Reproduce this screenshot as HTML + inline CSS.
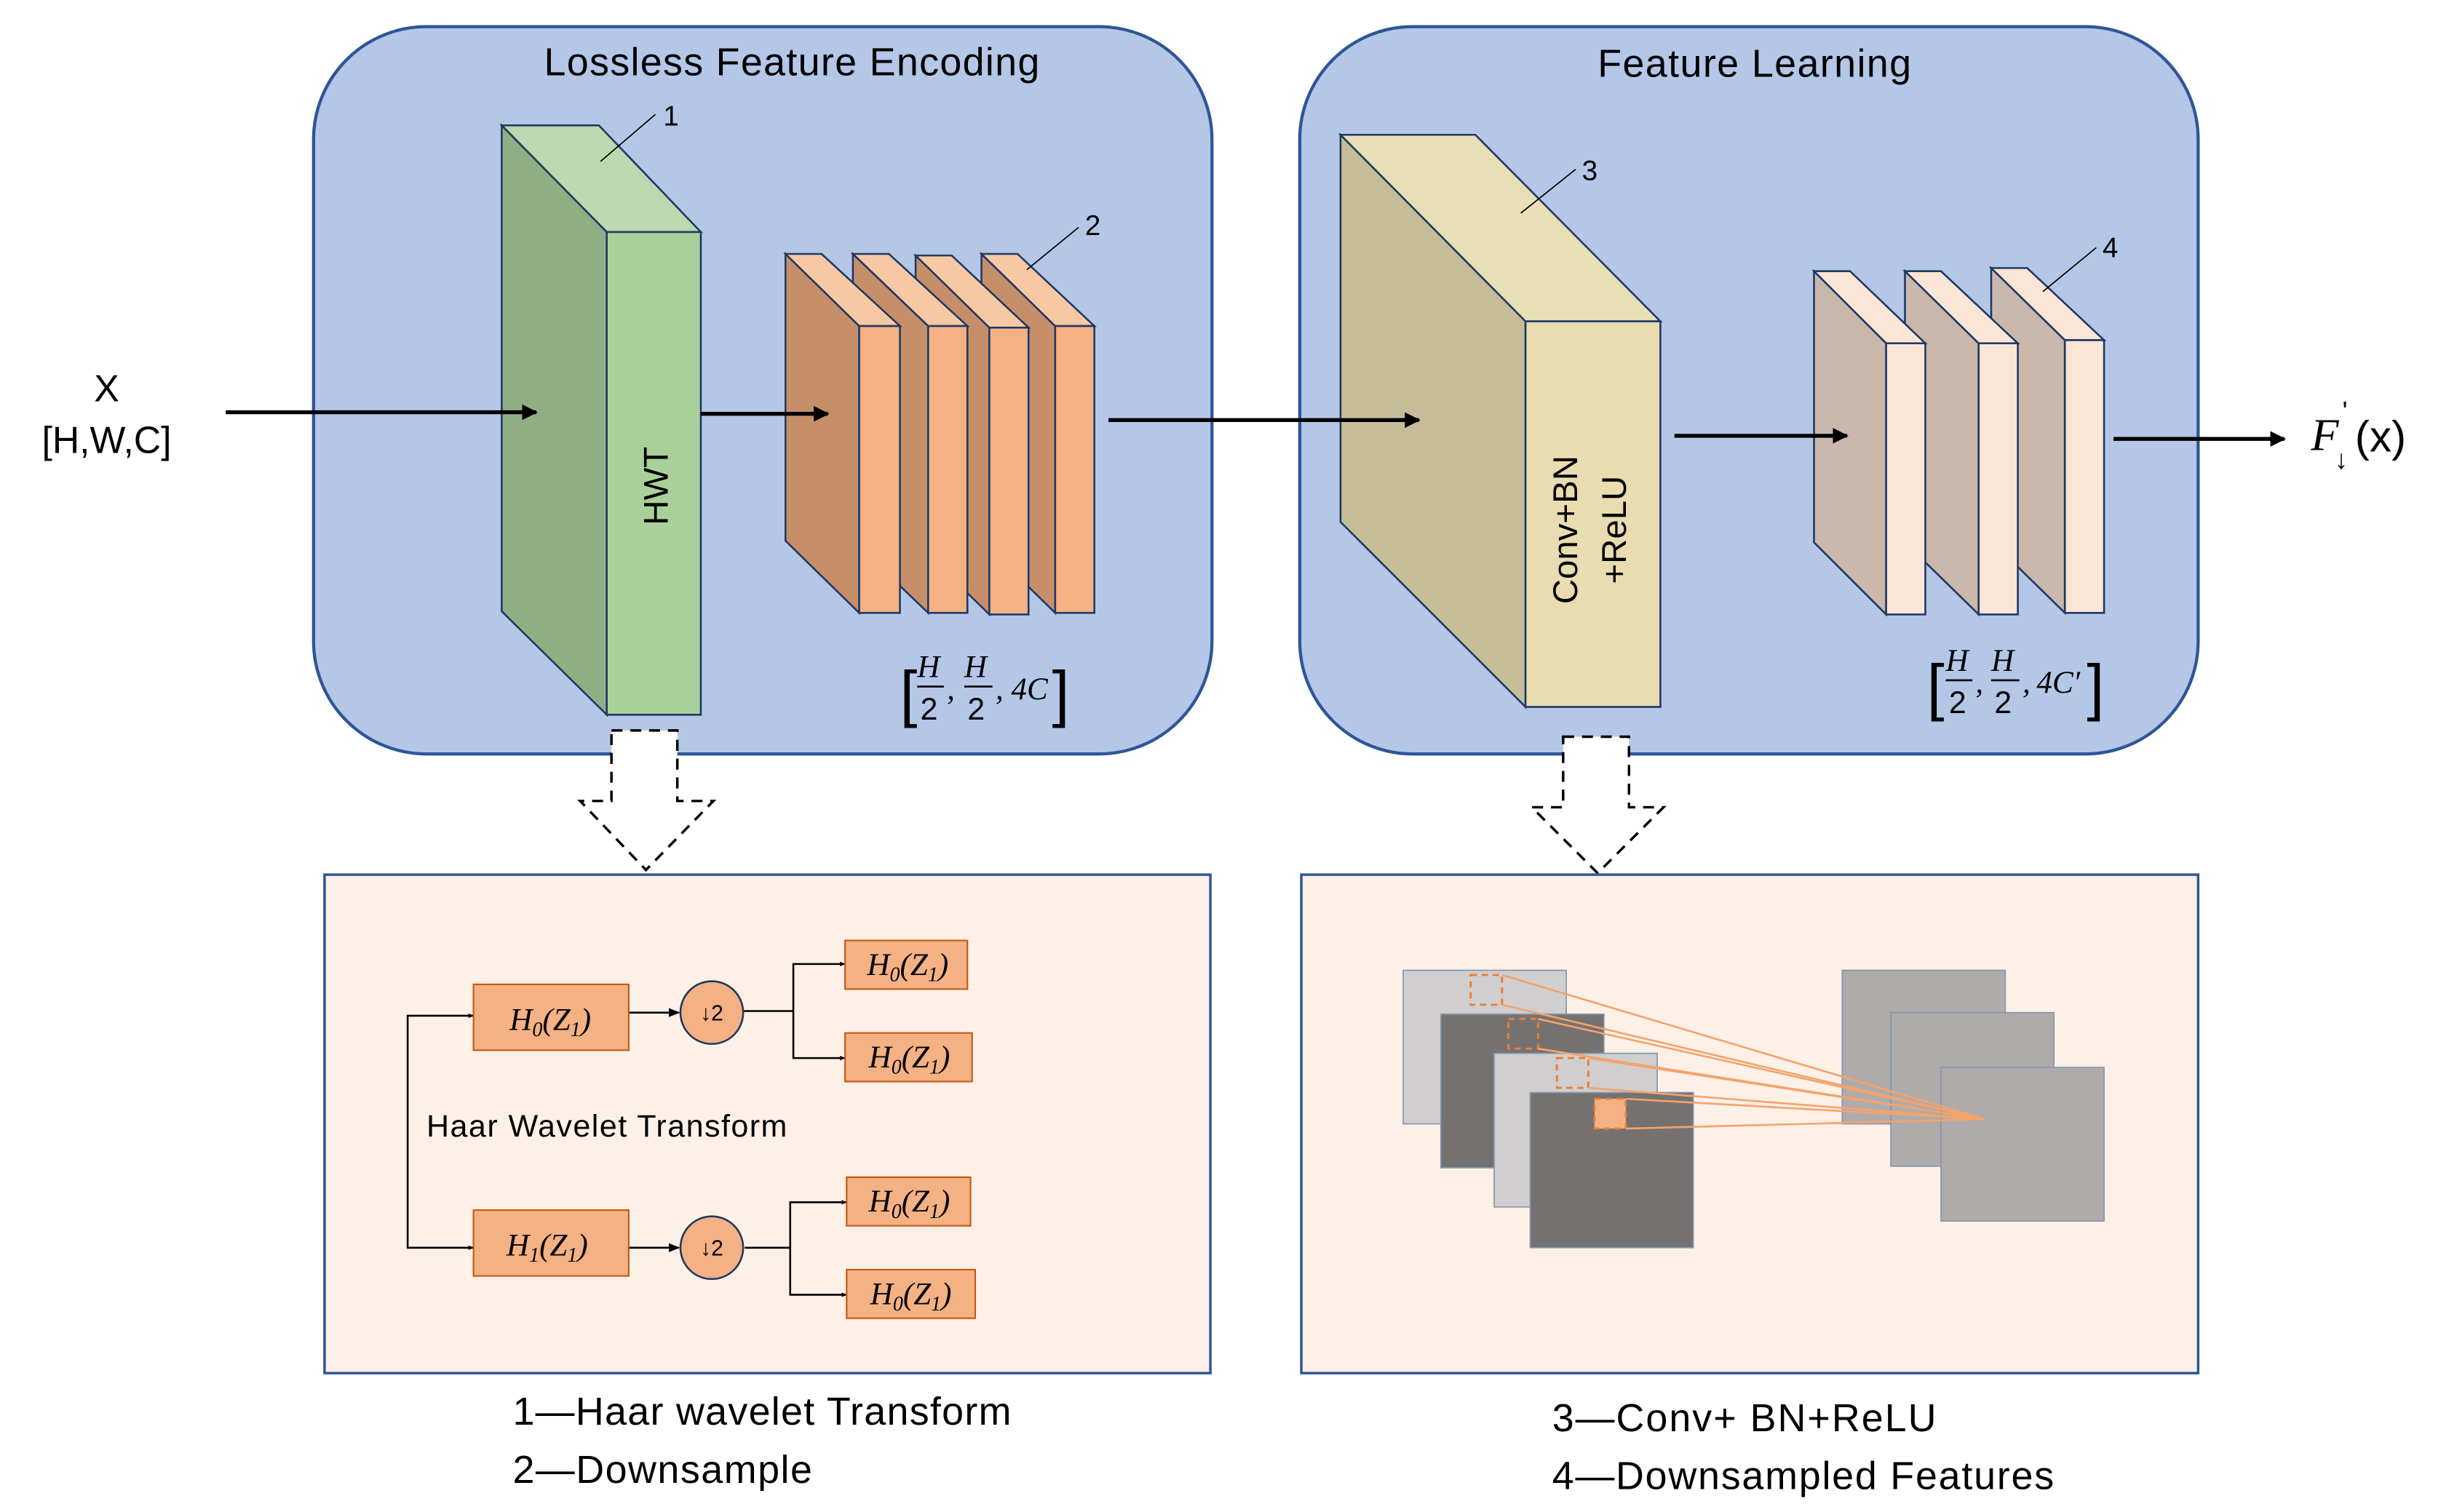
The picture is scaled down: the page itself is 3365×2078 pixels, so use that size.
<!DOCTYPE html>
<html><head><meta charset="utf-8"><style>
html,body{margin:0;padding:0;background:#fff;}
svg{display:block;}
text{font-family:"Liberation Sans",sans-serif;fill:#000;}
.m{font-family:"Liberation Serif",serif;font-style:italic;}
</style></head><body>
<svg width="3365" height="2078" viewBox="0 0 1562 964.6" preserveAspectRatio="none" xmlns="http://www.w3.org/2000/svg">
<defs>
<marker id="ah" viewBox="0 0 10 10" refX="9" refY="5" markerWidth="4" markerHeight="4" orient="auto"><path d="M0,0 L10,5 L0,10 z" fill="#000"/></marker>
<marker id="as" viewBox="0 0 10 10" refX="9" refY="5" markerWidth="6" markerHeight="6" orient="auto"><path d="M0,1 L10,5 L0,9 z" fill="#000"/></marker>
</defs>
<rect x="200" y="17" width="573" height="464" rx="72" fill="#b4c7e7" stroke="#2f5597" stroke-width="2"/>
<rect x="829" y="17" width="573" height="464" rx="72" fill="#b4c7e7" stroke="#2f5597" stroke-width="2"/>
<text x="505" y="48" font-size="25" text-anchor="middle" textLength="316">Lossless Feature Encoding</text>
<text x="1119" y="49" font-size="25" text-anchor="middle" textLength="200">Feature Learning</text>
<text x="68" y="256" font-size="24" text-anchor="middle">X</text>
<text x="68" y="289" font-size="24" text-anchor="middle">[H,W,C]</text>
<!-- green block -->
<g stroke="#203864" stroke-width="1.2">
<polygon points="320,80 387,148 387,456 320,390" fill="#8fae84"/>
<polygon points="320,80 382,80 447,148 387,148" fill="#bcd8b0"/>
<rect x="387" y="148" width="60" height="308" fill="#aad09a"/>
</g>
<text x="0" y="0" font-size="22" text-anchor="middle" transform="translate(426,310) rotate(-90)">HWT</text>
<line x1="383" y1="103" x2="418" y2="73" stroke="#000" stroke-width="0.8"/>
<text x="423" y="80" font-size="18">1</text>
<!-- orange slabs (back to front) -->
<g stroke="#203864" stroke-width="1.2">
<polygon points="626,162 673,208 673,391 626,345" fill="#c78f69"/>
<polygon points="626,162 649,162 698,208 673,208" fill="#f8c8a4"/>
<rect x="673" y="208" width="25" height="183" fill="#f4b183"/>
<polygon points="584,163 631,209 631,392 584,346" fill="#c78f69"/>
<polygon points="584,163 607,163 656,209 631,209" fill="#f8c8a4"/>
<rect x="631" y="209" width="25" height="183" fill="#f4b183"/>
<polygon points="544,162 592,208 592,391 544,345" fill="#c78f69"/>
<polygon points="544,162 567,162 617,208 592,208" fill="#f8c8a4"/>
<rect x="592" y="208" width="25" height="183" fill="#f4b183"/>
<polygon points="501,162 548,208 548,391 501,345" fill="#c78f69"/>
<polygon points="501,162 524,162 574,208 548,208" fill="#f8c8a4"/>
<rect x="548" y="208" width="26" height="183" fill="#f4b183"/>
</g>
<line x1="655" y1="172" x2="688" y2="145" stroke="#000" stroke-width="0.8"/>
<text x="692" y="150" font-size="18">2</text>
<!-- dims left -->
<text x="574" y="456" font-size="40" font-family="Liberation Serif">[</text>
<text x="585" y="432" font-size="20" class="m">H</text><line x1="585" y1="438" x2="602" y2="438" stroke="#000" stroke-width="1.2"/><text x="587" y="459" font-size="20" font-family="Liberation Serif">2</text>
<text x="604" y="446" font-size="20" class="m">,</text>
<text x="615" y="432" font-size="20" class="m">H</text><line x1="615" y1="438" x2="633" y2="438" stroke="#000" stroke-width="1.2"/><text x="617" y="459" font-size="20" font-family="Liberation Serif">2</text>
<text x="635" y="446" font-size="20" class="m">,</text>
<text x="645" y="446" font-size="20" class="m">4C</text>
<text x="671" y="456" font-size="40" font-family="Liberation Serif">]</text>
<!-- yellow block -->
<g stroke="#203864" stroke-width="1.2">
<polygon points="855,86 973,205 973,451 855,333" fill="#c4bd97"/>
<polygon points="855,86 941,86 1059,205 973,205" fill="#e8dfb6"/>
<rect x="973" y="205" width="86" height="246" fill="#e8dcb0"/>
</g>
<text font-size="22" text-anchor="middle" transform="translate(1006,338) rotate(-90)">Conv+BN</text>
<text font-size="22" text-anchor="middle" transform="translate(1037,338) rotate(-90)">+ReLU</text>
<line x1="970" y1="136" x2="1005" y2="108" stroke="#000" stroke-width="0.8"/>
<text x="1009" y="115" font-size="18">3</text>
<!-- pink slabs back to front -->
<g stroke="#203864" stroke-width="1.2">
<polygon points="1270,171 1317,217 1317,391 1270,345" fill="#c9b8ab"/>
<polygon points="1270,171 1293,171 1342,217 1317,217" fill="#fbe5d6"/>
<rect x="1317" y="217" width="25" height="174" fill="#fbe5d6"/>
<polygon points="1215,173 1262,219 1262,392 1215,346" fill="#c9b8ab"/>
<polygon points="1215,173 1238,173 1287,219 1262,219" fill="#fbe5d6"/>
<rect x="1262" y="219" width="25" height="173" fill="#fbe5d6"/>
<polygon points="1157,173 1203,219 1203,392 1157,346" fill="#c9b8ab"/>
<polygon points="1157,173 1180,173 1228,219 1203,219" fill="#fbe5d6"/>
<rect x="1203" y="219" width="25" height="173" fill="#fbe5d6"/>
</g>
<line x1="1303" y1="186" x2="1337" y2="158" stroke="#000" stroke-width="0.8"/>
<text x="1341" y="164" font-size="18">4</text>
<!-- dims right -->
<text x="1229" y="452" font-size="40" font-family="Liberation Serif">[</text>
<text x="1241" y="428" font-size="20" class="m">H</text><line x1="1241" y1="434" x2="1258" y2="434" stroke="#000" stroke-width="1.2"/><text x="1243" y="455" font-size="20" font-family="Liberation Serif">2</text>
<text x="1260" y="442" font-size="20" class="m">,</text>
<text x="1270" y="428" font-size="20" class="m">H</text><line x1="1270" y1="434" x2="1288" y2="434" stroke="#000" stroke-width="1.2"/><text x="1272" y="455" font-size="20" font-family="Liberation Serif">2</text>
<text x="1290" y="442" font-size="20" class="m">,</text>
<text x="1299" y="442" font-size="20" class="m">4C′</text>
<text x="1331" y="452" font-size="40" font-family="Liberation Serif">]</text>
<!-- arrows on top -->
<g stroke="#000" stroke-width="2.5">
<line x1="144" y1="263" x2="342" y2="263" marker-end="url(#ah)"/>
<line x1="447" y1="264" x2="528" y2="264" marker-end="url(#ah)"/>
<line x1="707" y1="268" x2="905" y2="268" marker-end="url(#ah)"/>
<line x1="1068" y1="278" x2="1178" y2="278" marker-end="url(#ah)"/>
<line x1="1348" y1="280" x2="1457" y2="280" marker-end="url(#ah)"/>
</g>
<text x="1474" y="287" font-size="29" class="m">F</text>
<text x="1494" y="268" font-size="17" font-family="Liberation Serif">'</text>
<text x="1489" y="299" font-size="17" font-family="DejaVu Sans">↓</text>
<text x="1502" y="288" font-size="28" font-family="Liberation Serif">(x)</text>
<!-- dashed block arrows -->
<polygon points="390,466 432,466 432,511 455,511 412,555 370,511 390,511" fill="#fff" stroke="#000" stroke-width="1.6" stroke-dasharray="7,5"/>
<polygon points="997,470 1039,470 1039,515 1061,515 1019,557 977,515 997,515" fill="#fff" stroke="#000" stroke-width="1.6" stroke-dasharray="7,5"/>
<!-- bottom left -->
<rect x="207" y="558" width="565" height="318" fill="#fdf0e7" stroke="#2f5597" stroke-width="1.6"/>
<g stroke="#000" stroke-width="1.2" fill="none">
<polyline points="302,648 260,648 260,796 302,796" />
<line x1="401" y1="646" x2="433" y2="646" marker-end="url(#as)"/>
<line x1="474" y1="645" x2="506" y2="645"/>
<polyline points="539,615 506,615 506,675 539,675"/>
<line x1="401" y1="796" x2="433" y2="796" marker-end="url(#as)"/>
<line x1="475" y1="796" x2="504" y2="796"/>
<polyline points="540,767 504,767 504,826 540,826"/>
</g>
<g stroke="#000" stroke-width="0.6" fill="none">
<line x1="295" y1="648" x2="302" y2="648" marker-end="url(#as)"/>
<line x1="295" y1="796" x2="302" y2="796" marker-end="url(#as)"/>
<line x1="532" y1="615" x2="539" y2="615" marker-end="url(#as)"/>
<line x1="532" y1="675" x2="539" y2="675" marker-end="url(#as)"/>
<line x1="533" y1="767" x2="540" y2="767" marker-end="url(#as)"/>
<line x1="533" y1="826" x2="540" y2="826" marker-end="url(#as)"/>
</g>
<g fill="#f4b183" stroke="#c55a11" stroke-width="1">
<rect x="302" y="628" width="99" height="42"/>
<rect x="302" y="772" width="99" height="42"/>
<rect x="539" y="600" width="78" height="31"/>
<rect x="539" y="659" width="81" height="31"/>
<rect x="540" y="751" width="79" height="31"/>
<rect x="540" y="810" width="82" height="31"/>
</g>
<circle cx="454" cy="646" r="20" fill="#f4b183" stroke="#203864" stroke-width="1.2"/>
<circle cx="454" cy="796" r="20" fill="#f4b183" stroke="#203864" stroke-width="1.2"/>
<text x="454" y="651" font-size="14" text-anchor="middle" font-family="Liberation Serif">↓2</text>
<text x="454" y="801" font-size="14" text-anchor="middle" font-family="Liberation Serif">↓2</text>
<g font-size="20" text-anchor="middle">
<text x="351" y="657" class="m">H<tspan font-size="13" dy="4">0</tspan><tspan dy="-4">(Z</tspan><tspan font-size="13" dy="4">1</tspan><tspan dy="-4">)</tspan></text>
<text x="349" y="801" class="m">H<tspan font-size="13" dy="4">1</tspan><tspan dy="-4">(Z</tspan><tspan font-size="13" dy="4">1</tspan><tspan dy="-4">)</tspan></text>
<text x="579" y="622" class="m">H<tspan font-size="13" dy="4">0</tspan><tspan dy="-4">(Z</tspan><tspan font-size="13" dy="4">1</tspan><tspan dy="-4">)</tspan></text>
<text x="580" y="681" class="m">H<tspan font-size="13" dy="4">0</tspan><tspan dy="-4">(Z</tspan><tspan font-size="13" dy="4">1</tspan><tspan dy="-4">)</tspan></text>
<text x="580" y="773" class="m">H<tspan font-size="13" dy="4">0</tspan><tspan dy="-4">(Z</tspan><tspan font-size="13" dy="4">1</tspan><tspan dy="-4">)</tspan></text>
<text x="581" y="832" class="m">H<tspan font-size="13" dy="4">0</tspan><tspan dy="-4">(Z</tspan><tspan font-size="13" dy="4">1</tspan><tspan dy="-4">)</tspan></text>
</g>
<text x="272" y="725" font-size="20" textLength="230">Haar Wavelet Transform</text>
<text x="327" y="909" font-size="25" textLength="318">1—Haar wavelet Transform</text>
<text x="327" y="946" font-size="25" textLength="191">2—Downsample</text>
<!-- bottom right -->
<rect x="830" y="558" width="572" height="318" fill="#fdf0e7" stroke="#2f5597" stroke-width="1.6"/>
<g stroke="#8497b0" stroke-width="0.8">
<rect x="895" y="619" width="104" height="98" fill="#d0cece"/>
<rect x="919" y="647" width="104" height="98" fill="#767171"/>
<rect x="953" y="672" width="104" height="98" fill="#d0cece"/>
<rect x="976" y="697" width="104" height="99" fill="#767171"/>
<rect x="1175" y="619" width="104" height="98" fill="#afabab"/>
<rect x="1206" y="646" width="104" height="98" fill="#afabab"/>
<rect x="1238" y="681" width="104" height="98" fill="#afabab"/>
</g>
<g fill="none" stroke="#ed7d31" stroke-width="1.3" stroke-dasharray="4,3">
<rect x="938" y="622" width="20" height="19"/>
<rect x="962" y="650" width="19" height="19"/>
<rect x="993" y="675" width="20" height="19"/>
</g>
<rect x="1017" y="701" width="20" height="19" fill="#f4b183" stroke="#ed7d31" stroke-width="1.3" stroke-dasharray="4,3"/>
<g stroke="#f4a36b" stroke-width="1.2">
<line x1="958" y1="622" x2="1266" y2="714"/>
<line x1="958" y1="641" x2="1266" y2="714"/>
<line x1="981" y1="650" x2="1266" y2="714"/>
<line x1="981" y1="669" x2="1266" y2="714"/>
<line x1="1013" y1="675" x2="1266" y2="714"/>
<line x1="1013" y1="694" x2="1266" y2="714"/>
<line x1="1037" y1="701" x2="1266" y2="714"/>
<line x1="1037" y1="720" x2="1266" y2="714"/>
</g>
<text x="990" y="913" font-size="25" textLength="245">3—Conv+ BN+ReLU</text>
<text x="990" y="950" font-size="25" textLength="320">4—Downsampled Features</text>
</svg>
</body></html>
